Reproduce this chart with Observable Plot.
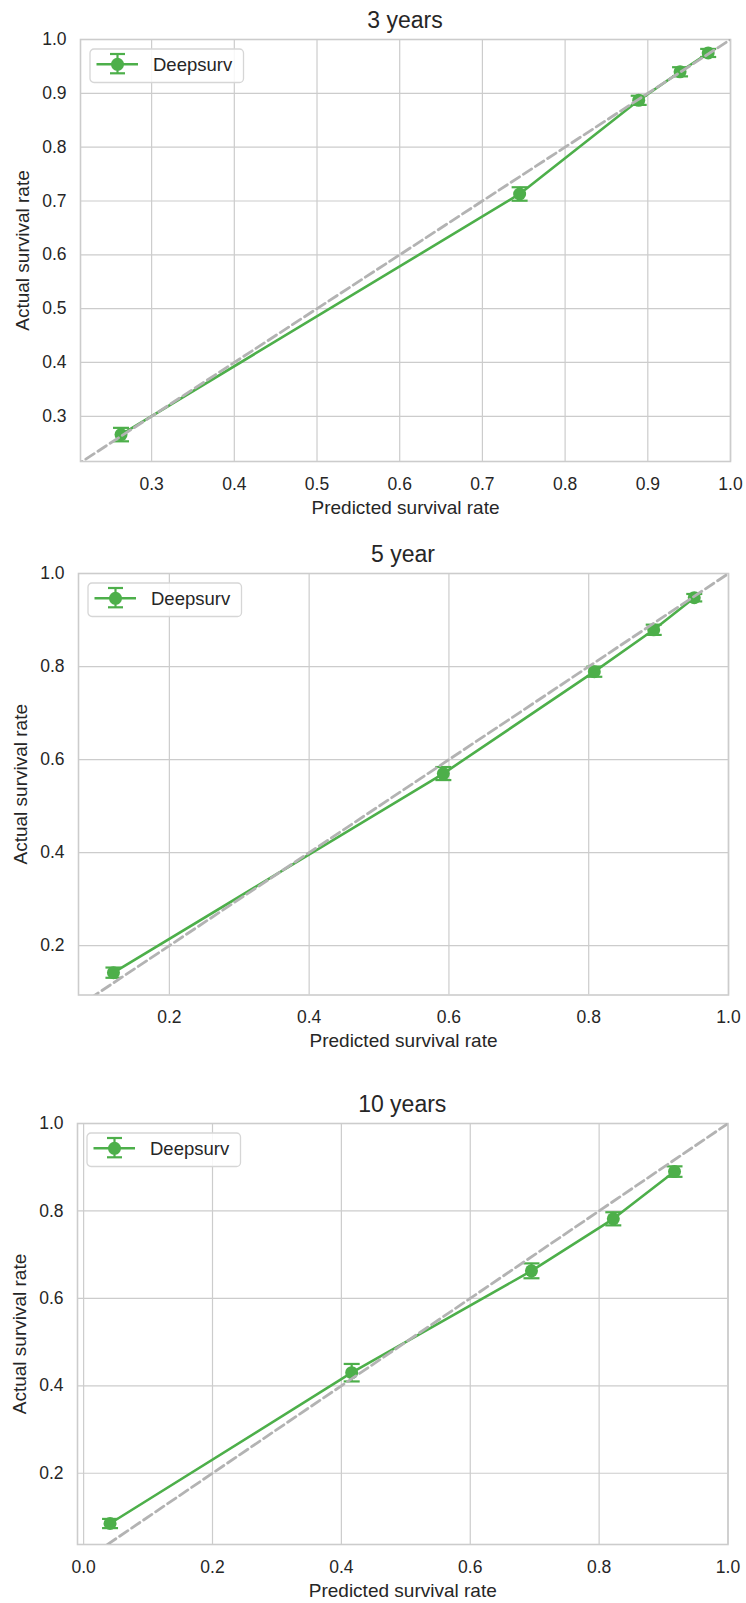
<!DOCTYPE html>
<html>
<head>
<meta charset="utf-8">
<script src="https://cdn.jsdelivr.net/npm/d3@7"></script>
<script src="https://cdn.jsdelivr.net/npm/@observablehq/plot@0.6"></script>
<style>
  body { margin: 0; background: #fff; }
  #root { position: relative; width: 746px; height: 1603px; font-family: "Liberation Sans", Arial, sans-serif; color: #262626; overflow: hidden; }
  .panel { position: absolute; left: 0; }
  .title { position: absolute; text-align: center; font-size: 23px; line-height: 26px; color: #262626; }
  .legend { position: absolute; }
</style>
</head>
<body>
<div id="root"></div>
<script>
// ---- data ----
const panelTitles = ["3 years", "5 year", "10 years"];
const seriesName = "Deepsurv";

const predicted3y = [0.263, 0.745, 0.889, 0.939, 0.973];
const actual3y    = [0.266, 0.713, 0.887, 0.940, 0.975];
const err3y       = [0.0125, 0.0125, 0.0085, 0.0085, 0.0075];

const predicted5y = [0.120, 0.592, 0.808, 0.893, 0.951];
const actual5y    = [0.142, 0.570, 0.789, 0.879, 0.948];
const err5y       = [0.011, 0.014, 0.011, 0.011, 0.008];

const predicted10y = [0.041, 0.416, 0.695, 0.822, 0.917];
const actual10y    = [0.085, 0.430, 0.663, 0.782, 0.890];
const err10y       = [0.0105, 0.020, 0.017, 0.015, 0.012];

const xTicks3y = [0.3, 0.4, 0.5, 0.6, 0.7, 0.8, 0.9, 1.0];
const yTicks3y = [0.3, 0.4, 0.5, 0.6, 0.7, 0.8, 0.9, 1.0];
const xTicks5y = [0.2, 0.4, 0.6, 0.8, 1.0];
const yTicks5y = [0.2, 0.4, 0.6, 0.8, 1.0];
const xTicks10y = [0.0, 0.2, 0.4, 0.6, 0.8, 1.0];
const yTicks10y = [0.2, 0.4, 0.6, 0.8, 1.0];

const diagonal = [0, 1];

// ---- styling / layout ----
const green = "#4daf4a";
const gridColor = "#cccccc";
const fmt = d3.format(".1f");

const capSymbol = {
  draw(context, size) {
    const w = Math.sqrt(size / Math.PI);
    context.moveTo(-w, 0);
    context.lineTo(w, 0);
  }
};

const panels = [
  {title: panelTitles[0], p: predicted3y, a: actual3y, e: err3y, xt: xTicks3y, yt: yTicks3y,
   xd: [0.214, 1.0], yd: [0.216, 1.0], left: 80, right: 730, top: 39, bottom: 461},
  {title: panelTitles[1], p: predicted5y, a: actual5y, e: err5y, xt: xTicks5y, yt: yTicks5y,
   xd: [0.070, 1.0], yd: [0.094, 1.0], left: 78, right: 728, top: 572.5, bottom: 994},
  {title: panelTitles[2], p: predicted10y, a: actual10y, e: err10y, xt: xTicks10y, yt: yTicks10y,
   xd: [-0.0095, 1.0], yd: [0.037, 1.0], left: 77, right: 727.5, top: 1123, bottom: 1544}
];

const root = document.getElementById("root");
const mt = 10, mb = 60;

for (const cfg of panels) {
  const rows = cfg.p.map((p, i) => ({p, a: cfg.a[i], e: cfg.e[i]}));
  const chart = Plot.plot({
    width: 746,
    height: mt + (cfg.bottom - cfg.top) + mb,
    marginLeft: cfg.left,
    marginRight: 746 - cfg.right,
    marginTop: mt,
    marginBottom: mb,
    style: {fontFamily: '"Liberation Sans", Arial, sans-serif', fontSize: "17.5px", color: "#262626", background: "transparent", overflow: "visible"},
    x: {domain: cfg.xd},
    y: {domain: cfg.yd},
    marks: [
      Plot.gridX({ticks: cfg.xt, stroke: gridColor, strokeOpacity: 1, strokeWidth: 1.2}),
      Plot.gridY({ticks: cfg.yt, stroke: gridColor, strokeOpacity: 1, strokeWidth: 1.2}),
      Plot.frame({stroke: gridColor, strokeWidth: 1.6}),
      Plot.axisX({ticks: cfg.xt, tickFormat: fmt, tickSize: 0, tickPadding: 16, label: null, fontSize: 17.5}),
      Plot.axisY({ticks: cfg.yt, tickFormat: fmt, tickSize: 0, tickPadding: 14, label: null, fontSize: 17.5}),
      Plot.text(["Predicted survival rate"], {frameAnchor: "bottom", dy: 46, lineAnchor: "middle", fontSize: 19, fill: "#262626"}),
      Plot.text(["Actual survival rate"], {frameAnchor: "left", dx: -58, rotate: -90, textAnchor: "middle", lineAnchor: "middle", fontSize: 19, fill: "#262626"}),
      Plot.line(rows, {x: "p", y: "a", stroke: green, strokeWidth: 2.6}),
      Plot.ruleX(rows, {x: "p", y1: d => d.a - d.e, y2: d => d.a + d.e, stroke: green, strokeWidth: 2.2}),
      Plot.dot(rows, {x: "p", y: d => d.a + d.e, symbol: capSymbol, r: 8, stroke: green, fill: "none", strokeWidth: 2.2}),
      Plot.dot(rows, {x: "p", y: d => d.a - d.e, symbol: capSymbol, r: 8, stroke: green, fill: "none", strokeWidth: 2.2}),
      Plot.dot(rows, {x: "p", y: "a", r: 6.5, fill: green, stroke: "none"}),
      Plot.line(diagonal, {x: d => d, y: d => d, stroke: "#b3b3b3", strokeWidth: 2.8, strokeDasharray: "10,4.5", clip: true})
    ]
  });
  const wrap = document.createElement("div");
  wrap.className = "panel";
  wrap.style.top = (cfg.top - mt) + "px";
  wrap.appendChild(chart);
  root.appendChild(wrap);

  const title = document.createElement("div");
  title.className = "title";
  title.textContent = cfg.title;
  title.style.left = cfg.left + "px";
  title.style.width = (cfg.right - cfg.left) + "px";
  title.style.top = (cfg.top - 19 - 13) + "px";
  root.appendChild(title);

  const legend = document.createElement("div");
  legend.className = "legend";
  legend.style.left = (cfg.left + 8.5) + "px";
  legend.style.top = (cfg.top + 9) + "px";
  legend.innerHTML =
    `<svg width="157" height="36" xmlns="http://www.w3.org/2000/svg">
      <rect x="1" y="1" width="153.5" height="33.5" rx="4" ry="4" fill="#ffffff" fill-opacity="0.85" stroke="#d6d6d6" stroke-width="1.3"/>
      <line x1="7.5" x2="49" y1="16.3" y2="16.3" stroke="${green}" stroke-width="2.6"/>
      <line x1="28.5" x2="28.5" y1="6" y2="25.3" stroke="${green}" stroke-width="2.2"/>
      <line x1="21" x2="36" y1="6" y2="6" stroke="${green}" stroke-width="2.2"/>
      <line x1="21" x2="36" y1="25.3" y2="25.3" stroke="${green}" stroke-width="2.2"/>
      <circle cx="28.5" cy="16.3" r="6.5" fill="${green}"/>
      <text x="64" y="22.5" font-size="18.5" fill="#262626" font-family="Liberation Sans, Arial, sans-serif">${seriesName}</text>
    </svg>`;
  root.appendChild(legend);
}
</script>
</body>
</html>
